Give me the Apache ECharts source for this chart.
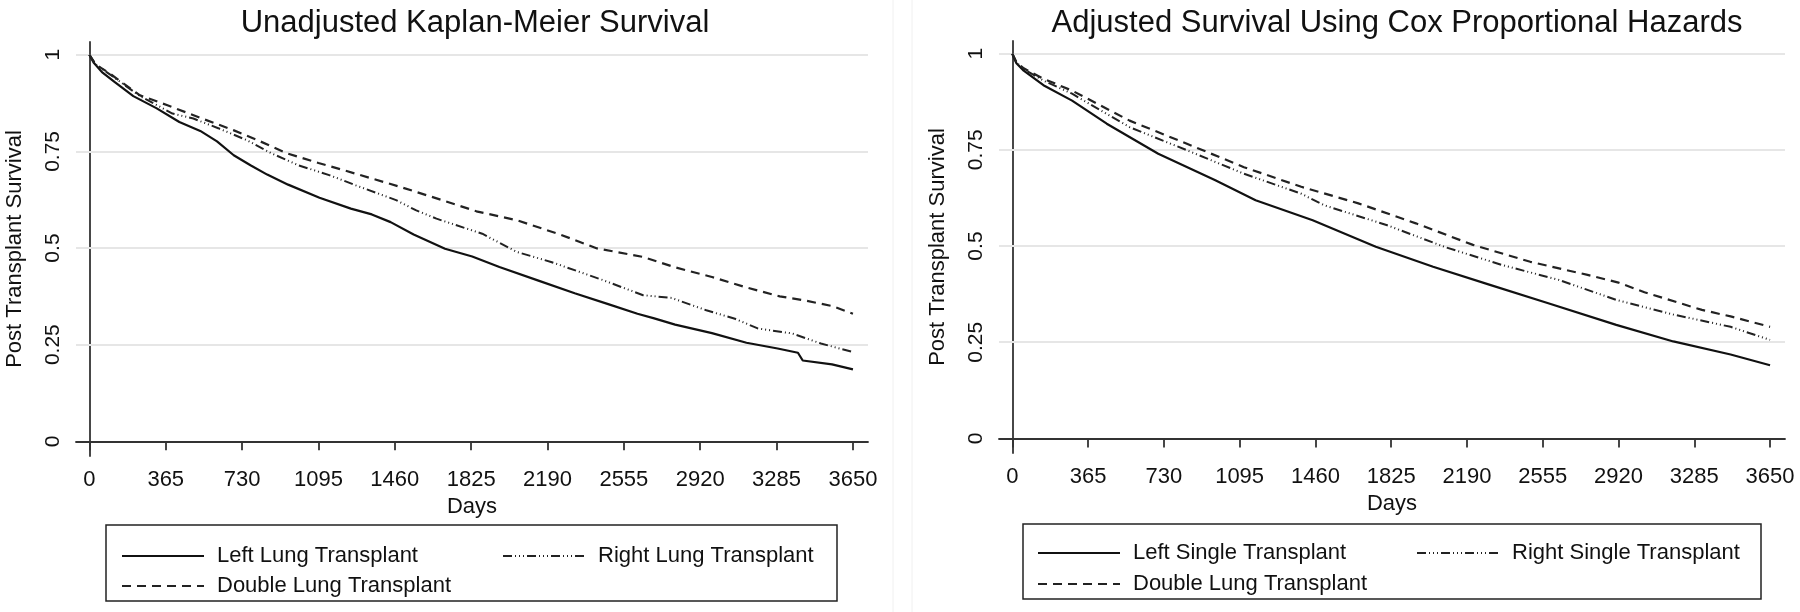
<!DOCTYPE html>
<html>
<head>
<meta charset="utf-8">
<script src="https://cdn.jsdelivr.net/npm/echarts@6/dist/echarts.min.js"></script>
<style>
  html, body { margin: 0; padding: 0; background: #fff; }
  #chart { width: 1800px; height: 612px; }
</style>
</head>
<body>
<div id="chart"></div>
<script>
const FONT = "'Liberation Sans', Arial, sans-serif";

const titles = ['Unadjusted Kaplan-Meier Survival', 'Adjusted Survival Using Cox Proportional Hazards'];
const dayTicks = [0, 365, 730, 1095, 1460, 1825, 2190, 2555, 2920, 3285, 3650];
const survTicks = [0, 0.25, 0.5, 0.75, 1];
const gridLines = [0.25, 0.5, 0.75, 1];

const namesLeft = ['Left Lung Transplant', 'Right Lung Transplant', 'Double Lung Transplant'];
const namesRight = ['Left Single Transplant', 'Right Single Transplant', 'Double Lung Transplant'];

// unadjusted KM, [day, survival]
const kmLeft = [[0,1],[20,0.98],[60,0.955],[120,0.93],[210,0.893],[320,0.862],[430,0.826],[530,0.803],[610,0.776],[690,0.74],[770,0.714],[850,0.69],[950,0.664],[1100,0.63],[1250,0.602],[1350,0.587],[1440,0.567],[1550,0.535],[1700,0.498],[1830,0.478],[1960,0.451],[2150,0.415],[2320,0.383],[2480,0.355],[2620,0.33],[2700,0.318],[2800,0.302],[2976,0.28],[3141,0.255],[3290,0.24],[3387,0.229],[3410,0.209],[3550,0.199],[3650,0.186]];
const kmRight = [[0,1],[30,0.975],[96,0.95],[242,0.893],[397,0.848],[497,0.835],[616,0.81],[753,0.779],[870,0.745],[1000,0.714],[1150,0.688],[1274,0.662],[1466,0.624],[1560,0.598],[1659,0.576],[1878,0.537],[2043,0.49],[2207,0.464],[2455,0.417],[2647,0.378],[2783,0.371],[2949,0.339],[3086,0.317],[3195,0.292],[3360,0.279],[3497,0.253],[3650,0.231]];
const kmDouble = [[0,1],[30,0.975],[96,0.952],[242,0.895],[370,0.87],[529,0.837],[688,0.805],[800,0.78],[945,0.745],[1095,0.72],[1218,0.701],[1493,0.657],[1686,0.624],[1850,0.595],[2043,0.572],[2250,0.535],[2427,0.499],[2647,0.477],[2800,0.45],[2976,0.425],[3141,0.398],[3300,0.375],[3415,0.365],[3550,0.35],[3650,0.33]];

// adjusted Cox, [day, survival]
const coxLeft = [[0,1],[20,0.975],[55,0.956],[150,0.918],[288,0.878],[455,0.818],[703,0.74],[978,0.671],[1172,0.619],[1447,0.567],[1751,0.498],[2027,0.446],[2301,0.399],[2578,0.352],[2909,0.295],[3184,0.252],[3460,0.218],[3650,0.19]];
const coxRight = [[0,1],[20,0.977],[55,0.96],[150,0.93],[288,0.896],[565,0.809],[841,0.749],[1116,0.688],[1392,0.636],[1502,0.606],[1806,0.554],[2081,0.498],[2357,0.451],[2632,0.412],[2909,0.36],[3184,0.322],[3460,0.29],[3650,0.256]];
const coxDouble = [[0,1],[20,0.978],[55,0.962],[150,0.935],[288,0.904],[565,0.826],[841,0.766],[1116,0.705],[1392,0.654],[1667,0.611],[1944,0.559],[2219,0.503],[2495,0.459],[2771,0.425],[2920,0.405],[3045,0.38],[3322,0.334],[3460,0.317],[3650,0.29]];

const styles = [
  { type: 'solid', width: 2.2, color: '#111' },
  { type: [9, 3, 1, 3, 1, 3, 1, 3], width: 2, color: '#222' },
  { type: [9, 6], width: 2.2, color: '#222' }
];

const chart = echarts.init(document.getElementById('chart'));

function xAxisFor(gi) {
  return {
    type: 'value', gridIndex: gi, min: -64, max: 3722,
    name: 'Days', nameLocation: 'middle', nameGap: 40,
    nameTextStyle: { fontFamily: FONT, fontSize: 22, color: '#111' },
    axisLine: { lineStyle: { color: '#333', width: 1.8 } },
    axisTick: { length: 9, customValues: dayTicks, lineStyle: { color: '#333', width: 1.8 } },
    axisLabel: { customValues: dayTicks, margin: 13, fontFamily: FONT, fontSize: 22, color: '#111',
      formatter: v => String(v) },
    splitLine: { show: false }
  };
}
function yAxisFor(gi) {
  return {
    type: 'value', gridIndex: gi, min: -0.038, max: 1.033,
    name: 'Post Transplant Survival', nameLocation: 'middle', nameGap: 50,
    nameTextStyle: { fontFamily: FONT, fontSize: 22, color: '#111' },
    axisLine: { show: true, lineStyle: { color: '#333', width: 1.8 } },
    axisTick: { show: true, length: 8, customValues: survTicks, lineStyle: { color: '#333', width: 1.8 } },
    axisLabel: { customValues: survTicks, rotate: 90, margin: 12, fontFamily: FONT, fontSize: 21, color: '#111',
      formatter: v => String(v) },
    splitLine: { show: false }
  };
}

function lineSeries(name, data, st, gi, withGrid) {
  const s = {
    name: name, type: 'line', data: data, xAxisIndex: gi, yAxisIndex: gi,
    symbol: 'none', showSymbol: false, smooth: false, animation: false,
    lineStyle: { type: st.type, width: st.width, color: st.color },
    itemStyle: { color: st.color }, z: 3
  };
  if (withGrid) {
    s.markLine = {
      silent: true, symbol: 'none', animation: false, z: 1,
      label: { show: false },
      lineStyle: { type: 'solid', color: '#e6e6e6', width: 2 },
      data: gridLines.map(v => ({ yAxis: v }))
    };
  }
  return s;
}

function legendItem(name, x, yc) {
  return {
    data: [name], left: x, top: yc - 12, itemWidth: 82, itemHeight: 14,
    selectedMode: false,
    itemStyle: { opacity: 0 },
    textStyle: { fontFamily: FONT, fontSize: 22, color: '#111', padding: [0, 0, 0, 8] }
  };
}

const option = {
  backgroundColor: '#fff',
  animation: false,
  title: [
    { text: titles[0], left: 470, top: 3, textAlign: 'center',
      textStyle: { fontFamily: FONT, fontSize: 31, fontWeight: 'normal', color: '#111' } },
    { text: titles[1], left: 1392, top: 3, textAlign: 'center',
      textStyle: { fontFamily: FONT, fontSize: 31, fontWeight: 'normal', color: '#111' } }
  ],
  grid: [
    { left: 76, top: 42, width: 792, height: 414 },
    { left: 999, top: 41, width: 786, height: 412 }
  ],
  xAxis: [xAxisFor(0), xAxisFor(1)],
  yAxis: [yAxisFor(0), yAxisFor(1)],
  legend: [
    legendItem(namesLeft[0], 116, 552),
    legendItem(namesLeft[1], 497, 552),
    legendItem(namesLeft[2], 116, 582),
    legendItem(namesRight[0], 1032, 549),
    legendItem(namesRight[1], 1411, 549),
    legendItem(namesRight[2], 1032, 580)
  ],
  series: [
    lineSeries(namesLeft[0], kmLeft, styles[0], 0, true),
    lineSeries(namesLeft[1], kmRight, styles[1], 0, false),
    lineSeries(namesLeft[2], kmDouble, styles[2], 0, false),
    lineSeries(namesRight[0], coxLeft, styles[0], 1, true),
    lineSeries(namesRight[1], coxRight, styles[1], 1, false),
    lineSeries(namesRight[2], coxDouble, styles[2], 1, false)
  ],
  graphic: [
    { type: 'rect', shape: { x: 106, y: 525, width: 731, height: 76 },
      style: { fill: 'none', stroke: '#222', lineWidth: 1.5 } },
    { type: 'rect', shape: { x: 1023, y: 524, width: 738, height: 75 },
      style: { fill: 'none', stroke: '#222', lineWidth: 1.5 } },
    { type: 'line', shape: { x1: 893, y1: 0, x2: 893, y2: 612 },
      style: { stroke: '#f0f0f0', lineWidth: 1 } },
    { type: 'line', shape: { x1: 912, y1: 0, x2: 912, y2: 612 },
      style: { stroke: '#f0f0f0', lineWidth: 1 } }
  ]
};

chart.setOption(option);
</script>
</body>
</html>
